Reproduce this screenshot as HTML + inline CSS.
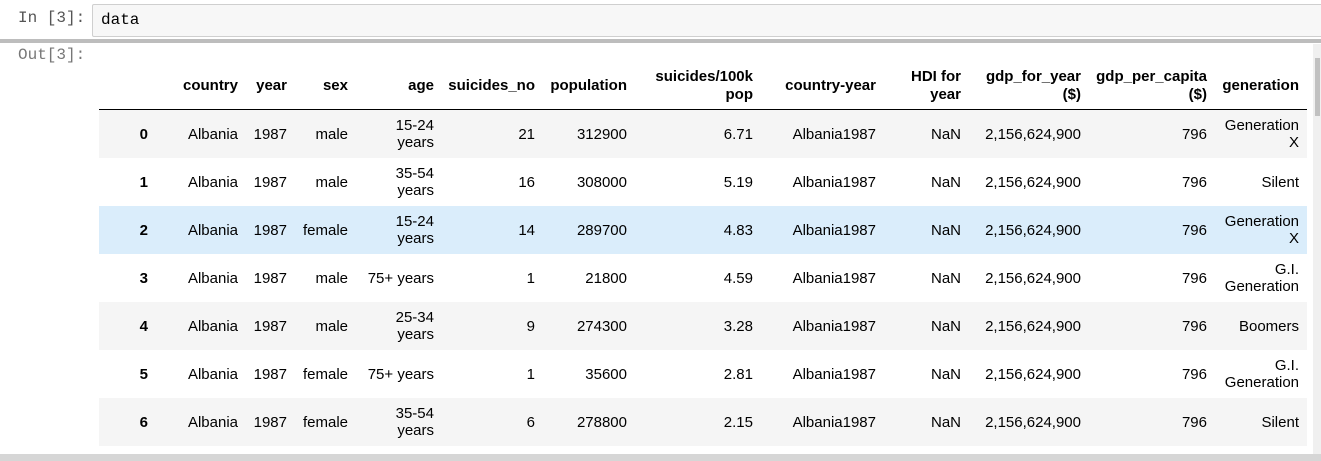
<!DOCTYPE html>
<html><head><meta charset="utf-8">
<style>
body{margin:0;width:1321px;height:461px;overflow:hidden;background:#fff;position:relative;font-family:"Liberation Sans",Arial,sans-serif;}
.mono{font-family:"Liberation Mono",monospace;font-size:16px;}
#inprompt{position:absolute;left:18px;top:9px;color:#555;}
#inbox{position:absolute;left:92px;top:4px;width:1240px;height:33px;background:#f7f7f7;border:1px solid #cfcfcf;border-radius:2px;box-sizing:border-box;}
#inbox span{position:absolute;left:8px;top:6px;color:#000;}
#sep{position:absolute;left:0;top:39px;width:1321px;height:4px;background:#bdbdbd;}
#outprompt{position:absolute;left:18px;top:46px;color:#777;}
#wrap{position:absolute;left:99px;top:58px;width:1210px;height:395px;overflow:hidden;}
table{border-collapse:collapse;table-layout:fixed;font-size:15px;color:#000;}
th,td{text-align:right;padding:0 8px 0 0;line-height:17px;}
th{font-weight:bold;font-size:15px;vertical-align:middle;height:47px;padding-top:4px;padding-bottom:0;line-height:18px;border-bottom:1px solid #000;}
td{height:48px;vertical-align:middle;}
tbody tr:nth-child(odd){background:#f5f5f5;}
tbody tr.hl{background:#daedfb;}
td.idx{font-weight:bold;padding-right:12px;}
#scroll{position:absolute;left:1313px;top:44px;width:8px;height:410px;background:#f0f0f0;}
#thumb{position:absolute;left:1315px;top:58px;width:5px;height:58px;background:#c1c1c1;}
#bottom{position:absolute;left:0;top:454px;width:1321px;height:7px;background:#d6d6d6;}
</style></head><body>
<div id="inprompt" class="mono">In [3]:</div>
<div id="inbox"><span class="mono">data</span></div>
<div id="sep"></div>
<div id="outprompt" class="mono">Out[3]:</div>
<div id="wrap">
<table>
<colgroup><col style="width:61px"><col style="width:86px"><col style="width:49px"><col style="width:61px"><col style="width:86px"><col style="width:101px"><col style="width:92px"><col style="width:126px"><col style="width:123px"><col style="width:85px"><col style="width:120px"><col style="width:126px"><col style="width:92px"></colgroup>
<thead><tr><th></th><th>country</th><th>year</th><th>sex</th><th>age</th><th>suicides_no</th><th>population</th><th>suicides/100k<br>pop</th><th>country-year</th><th>HDI for<br>year</th><th>gdp_for_year<br>($)</th><th>gdp_per_capita<br>($)</th><th>generation</th></tr></thead>
<tbody>
<tr><td class="idx">0</td><td>Albania</td><td>1987</td><td>male</td><td>15-24<br>years</td><td>21</td><td>312900</td><td>6.71</td><td>Albania1987</td><td>NaN</td><td>2,156,624,900</td><td>796</td><td>Generation<br>X</td></tr>
<tr><td class="idx">1</td><td>Albania</td><td>1987</td><td>male</td><td>35-54<br>years</td><td>16</td><td>308000</td><td>5.19</td><td>Albania1987</td><td>NaN</td><td>2,156,624,900</td><td>796</td><td>Silent</td></tr>
<tr class="hl"><td class="idx">2</td><td>Albania</td><td>1987</td><td>female</td><td>15-24<br>years</td><td>14</td><td>289700</td><td>4.83</td><td>Albania1987</td><td>NaN</td><td>2,156,624,900</td><td>796</td><td>Generation<br>X</td></tr>
<tr><td class="idx">3</td><td>Albania</td><td>1987</td><td>male</td><td>75+ years</td><td>1</td><td>21800</td><td>4.59</td><td>Albania1987</td><td>NaN</td><td>2,156,624,900</td><td>796</td><td>G.I.<br>Generation</td></tr>
<tr><td class="idx">4</td><td>Albania</td><td>1987</td><td>male</td><td>25-34<br>years</td><td>9</td><td>274300</td><td>3.28</td><td>Albania1987</td><td>NaN</td><td>2,156,624,900</td><td>796</td><td>Boomers</td></tr>
<tr><td class="idx">5</td><td>Albania</td><td>1987</td><td>female</td><td>75+ years</td><td>1</td><td>35600</td><td>2.81</td><td>Albania1987</td><td>NaN</td><td>2,156,624,900</td><td>796</td><td>G.I.<br>Generation</td></tr>
<tr><td class="idx">6</td><td>Albania</td><td>1987</td><td>female</td><td>35-54<br>years</td><td>6</td><td>278800</td><td>2.15</td><td>Albania1987</td><td>NaN</td><td>2,156,624,900</td><td>796</td><td>Silent</td></tr>
</tbody></table></div>
<div id="scroll"></div>
<div id="thumb"></div>
<div id="bottom"></div>
</body></html>
